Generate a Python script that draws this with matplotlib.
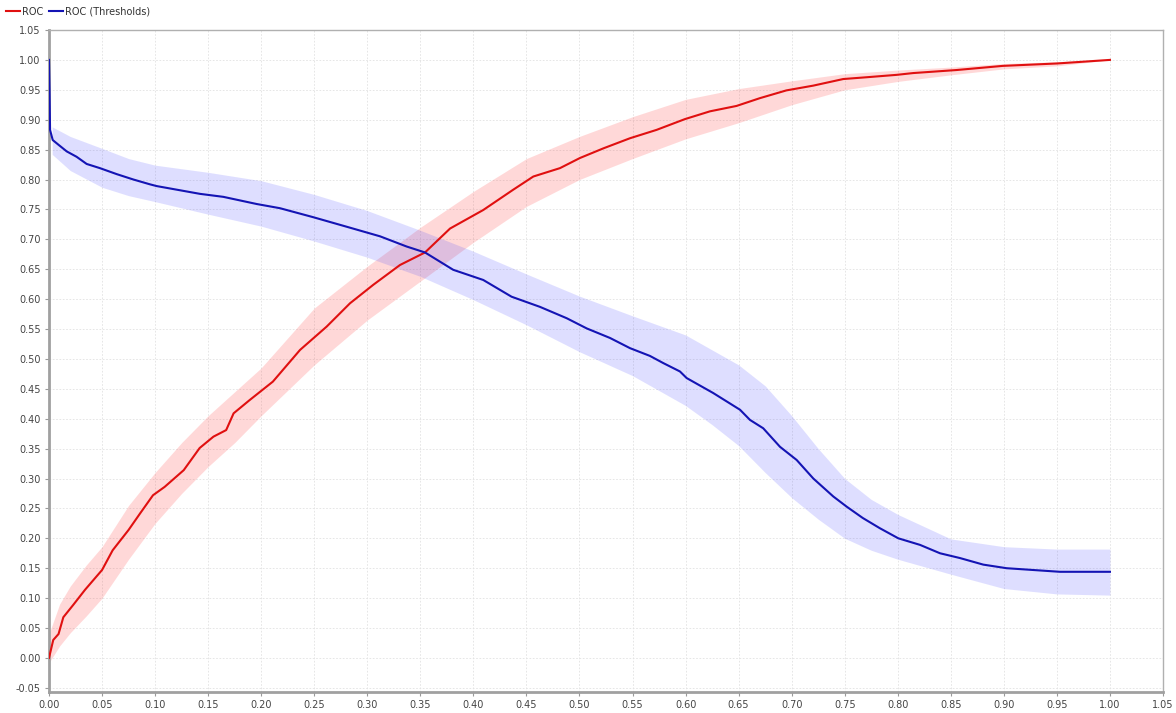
import matplotlib
matplotlib.use("Agg")
import matplotlib.pyplot as plt
import numpy as np

# ---- Data ----
roc_x = [0, 0.004, 0.009, 0.0135, 0.023, 0.034, 0.05, 0.06, 0.075, 0.086, 0.098, 0.109,
         0.127, 0.142, 0.155, 0.167, 0.174, 0.189, 0.211, 0.2366, 0.2617, 0.2837, 0.3057,
         0.3308, 0.3544, 0.378, 0.4093, 0.4376, 0.4565, 0.4816, 0.5005, 0.5224, 0.5476,
         0.5727, 0.5994, 0.623, 0.648, 0.670, 0.695, 0.7204, 0.7486, 0.7707, 0.799,
         0.8146, 0.855, 0.899, 0.9498, 1.0]
roc_y = [0, 0.03, 0.04, 0.068, 0.089, 0.114, 0.147, 0.18, 0.214, 0.242, 0.272, 0.286,
         0.314, 0.351, 0.37, 0.381, 0.409, 0.431, 0.462, 0.515, 0.554, 0.593, 0.624,
         0.657, 0.678, 0.718, 0.749, 0.783, 0.805, 0.819, 0.836, 0.852, 0.869,
         0.883, 0.901, 0.914, 0.923, 0.936, 0.949, 0.957, 0.968, 0.971, 0.975,
         0.978, 0.983, 0.990, 0.994, 1.0]

roc_band_x = [0, 0.01, 0.02, 0.035, 0.05, 0.075, 0.1, 0.125, 0.15, 0.175, 0.2, 0.25, 0.3,
              0.35, 0.4, 0.45, 0.5, 0.55, 0.6, 0.65, 0.7, 0.75, 0.8, 0.85, 0.9, 0.95, 1.0]
roc_upper = [0.04, 0.09, 0.12, 0.155, 0.186, 0.255, 0.31, 0.36, 0.405, 0.445, 0.485,
             0.585, 0.655, 0.72, 0.78, 0.835, 0.872, 0.905, 0.934, 0.952, 0.965, 0.977,
             0.983, 0.988, 0.994, 0.997, 1.0]
roc_lower = [-0.008, 0.02, 0.042, 0.07, 0.1, 0.165, 0.225, 0.275, 0.32, 0.36, 0.405,
             0.49, 0.565, 0.63, 0.695, 0.755, 0.80, 0.835, 0.868, 0.895, 0.925, 0.95,
             0.964, 0.975, 0.985, 0.99, 1.0]

thr_x = [0, 0.0005, 0.001, 0.0035, 0.009, 0.0167, 0.026, 0.0355, 0.048, 0.0638, 0.0795,
         0.095, 0.1015, 0.1423, 0.1643, 0.1958, 0.2177, 0.249, 0.2806, 0.312, 0.337,
         0.3544, 0.381, 0.4093, 0.436, 0.4628, 0.488, 0.5068, 0.5288, 0.5476, 0.5664,
         0.579, 0.5947, 0.601, 0.626, 0.6513, 0.6607, 0.6732, 0.689, 0.7047, 0.7204,
         0.7392, 0.7518, 0.767, 0.783, 0.8005, 0.821, 0.8398, 0.8586, 0.8806, 0.9026,
         0.9277, 0.9529, 1.0]
thr_y = [1.0, 0.95, 0.883, 0.866, 0.858, 0.847, 0.838, 0.826, 0.819, 0.809, 0.80,
         0.792, 0.789, 0.776, 0.771, 0.759, 0.752, 0.737, 0.721, 0.705, 0.688,
         0.678, 0.649, 0.632, 0.604, 0.587, 0.568, 0.551, 0.535, 0.518, 0.505,
         0.493, 0.479, 0.468, 0.443, 0.415, 0.398, 0.384, 0.353, 0.331, 0.300,
         0.270, 0.253, 0.234, 0.217, 0.200, 0.189, 0.175, 0.167, 0.156, 0.150,
         0.147, 0.144, 0.144]

thr_band_x = [0.003, 0.02, 0.05, 0.075, 0.1, 0.15, 0.2, 0.25, 0.3, 0.35, 0.4, 0.45, 0.5,
              0.55, 0.6, 0.625, 0.65, 0.675, 0.7, 0.725, 0.75, 0.775, 0.8, 0.85, 0.9,
              0.95, 1.0]
thr_upper = [0.888, 0.872, 0.852, 0.835, 0.824, 0.812, 0.798, 0.775, 0.748, 0.715,
             0.68, 0.642, 0.605, 0.572, 0.54, 0.515, 0.49, 0.455, 0.405, 0.35, 0.3,
             0.265, 0.24, 0.199, 0.186, 0.182, 0.182]
thr_lower = [0.842, 0.815, 0.787, 0.773, 0.763, 0.742, 0.722, 0.697, 0.67, 0.638, 0.599,
             0.557, 0.512, 0.472, 0.422, 0.39, 0.355, 0.31, 0.268, 0.232, 0.2, 0.18,
             0.165, 0.14, 0.116, 0.107, 0.105]

labels = ["ROC", "ROC (Thresholds)"]
tick_vals = [round(0.05 * i, 2) for i in range(-1, 22)]

# ---- Figure ----
plt.rcParams['font.family'] = ['DejaVu Sans']
fig = plt.figure(figsize=(11.76, 7.13), dpi=100)
ax = fig.add_axes([49 / 1176, 1 - 692 / 713, (1163 - 49) / 1176, (692 - 30) / 713])

red = '#e01010'
blue = '#1414b4'

ax.fill_between(roc_band_x, roc_lower, roc_upper, color='#ff4040', alpha=0.2,
                linewidth=0, zorder=2)
ax.fill_between(thr_band_x, thr_lower, thr_upper, color='#4040ff', alpha=0.17,
                linewidth=0, zorder=2)
l1, = ax.plot(roc_x, roc_y, color=red, linewidth=1.5, label=labels[0], zorder=4)
l2, = ax.plot(thr_x, thr_y, color=blue, linewidth=1.5, label=labels[1], zorder=4)

ax.set_xlim(0, 1.05)
ax.set_ylim(-0.057, 1.05)
xt = [v for v in tick_vals if 0 <= v <= 1.05]
yt = [v for v in tick_vals if -0.05 <= v <= 1.05]
ax.set_xticks(xt)
ax.set_yticks(yt)
ax.set_xticklabels([f"{v:.2f}" for v in xt])
ax.set_yticklabels([f"{v:.2f}" for v in yt])
ax.tick_params(axis='both', labelsize=7, labelcolor='#444444', length=3, width=0.8,
               direction='out', pad=3, color='#999999')

ax.grid(True, color='#e2e2e2', linestyle=(0, (2, 2)), linewidth=0.6, zorder=0)
ax.set_axisbelow(True)

for s in ['left', 'bottom']:
    ax.spines[s].set_color('#a0a0a0')
    ax.spines[s].set_linewidth(2.0)
for s in ['top', 'right']:
    ax.spines[s].set_color('#b0b0b0')
    ax.spines[s].set_linewidth(1.0)

fig.legend(handles=[l1, l2], loc='upper left', bbox_to_anchor=(-0.002, 1.003), ncol=2,
           frameon=False, fontsize=7, handlelength=1.4, handletextpad=0.2,
           columnspacing=0.6, labelcolor='#333333')

fig.savefig('out.png', dpi=100)
